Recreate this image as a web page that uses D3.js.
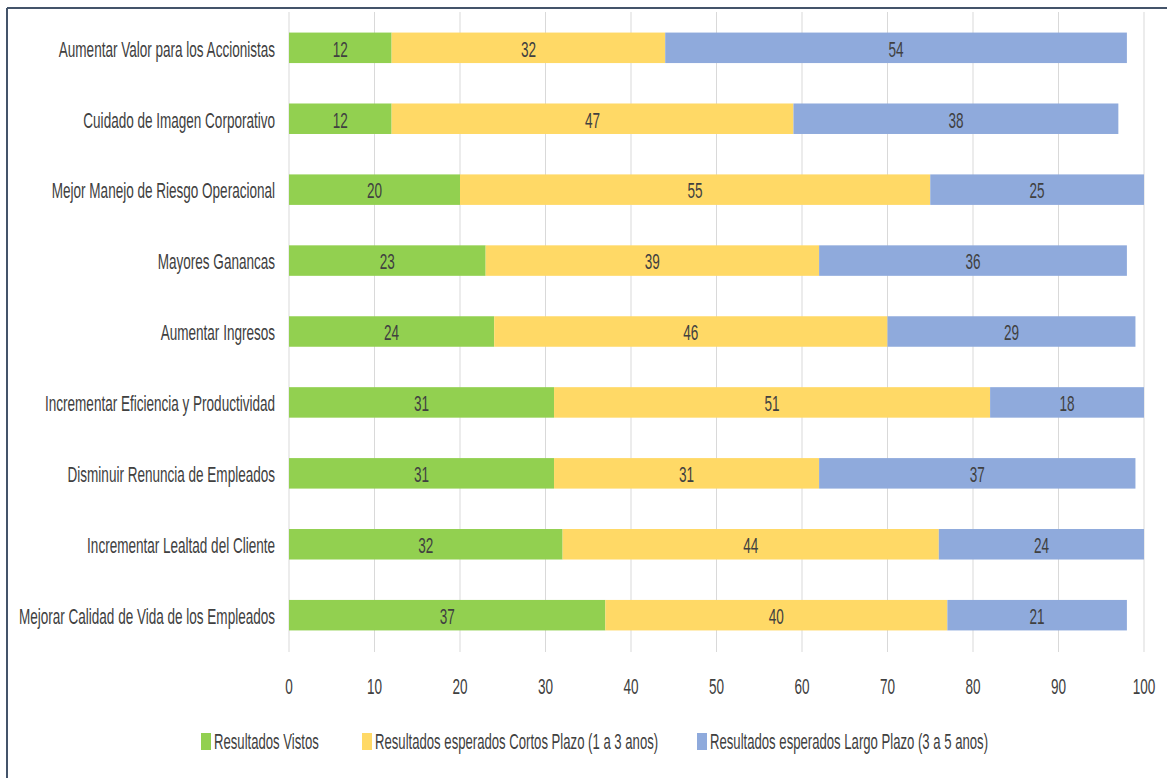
<!DOCTYPE html>
<html>
<head>
<meta charset="utf-8">
<script src="https://cdn.jsdelivr.net/npm/d3@7"></script>
<style>
  html, body { margin: 0; padding: 0; background: #ffffff; }
  svg { display: block; }
  text { font-family: "Liberation Sans Narrow", "Liberation Sans", Arial, sans-serif; fill: #404040; }
</style>
</head>
<body>
<svg id="chart" width="1167" height="778"></svg>
<script>
// Categories, top to bottom
const categories = [
  "Aumentar Valor para los Accionistas",
  "Cuidado de Imagen Corporativo",
  "Mejor Manejo de Riesgo Operacional",
  "Mayores Ganancas",
  "Aumentar Ingresos",
  "Incrementar Eficiencia y Productividad",
  "Disminuir Renuncia de Empleados",
  "Incrementar Lealtad del Cliente",
  "Mejorar Calidad de Vida de los Empleados"
];

// Series values, one per category
const vistos = [12, 12, 20, 23, 24, 31, 31, 32, 37];
const cortoPlazo = [32, 47, 55, 39, 46, 51, 31, 44, 40];
const largoPlazo = [54, 38, 25, 36, 29, 18, 37, 24, 21];

const seriesNames = [
  "Resultados Vistos",
  "Resultados esperados Cortos Plazo (1 a 3 anos)",
  "Resultados esperados Largo Plazo (3 a 5 anos)"
];
const seriesColors = ["#92d050", "#ffd966", "#8faadc"];

const xTicks = [0, 10, 20, 30, 40, 50, 60, 70, 80, 90, 100];

// Horizontal squeeze applied to text (condensed look)
const SX = 0.615;
const SX_LEGEND = 0.597;

const svg = d3.select("#chart");

// Outer frame (top and left edges)
svg.append("line").attr("x1", 7).attr("x2", 1167).attr("y1", 8).attr("y2", 8)
  .attr("stroke", "#44546a").attr("stroke-width", 2);
svg.append("line").attr("x1", 7).attr("x2", 7).attr("y1", 8).attr("y2", 778)
  .attr("stroke", "#44546a").attr("stroke-width", 2);

const x = d3.scaleLinear().domain([0, 100]).range([289, 1144]);
const y = d3.scaleBand().domain(categories).range([12, 651]).paddingInner(0.57).paddingOuter(0.29);

// Gridlines
svg.append("g").selectAll("line").data(xTicks).join("line")
  .attr("x1", d => x(d)).attr("x2", d => x(d))
  .attr("y1", 12).attr("y2", 652)
  .attr("stroke", "#d9d9d9").attr("stroke-width", 1);

// Stack the data
const rows = categories.map((c, i) => ({ cat: c, s0: vistos[i], s1: cortoPlazo[i], s2: largoPlazo[i] }));
const stack = d3.stack().keys(["s0", "s1", "s2"]);
const layers = stack(rows);

function sqText(sel, xPos, yPos) {
  return sel.attr("transform", (d, i) => `translate(${xPos(d, i)},${yPos(d, i)}) scale(${SX},1)`);
}

layers.forEach((layer, k) => {
  const g = svg.append("g");
  g.selectAll("rect").data(layer).join("rect")
    .attr("x", d => x(d[0]))
    .attr("y", d => y(d.data.cat))
    .attr("width", d => x(d[1]) - x(d[0]))
    .attr("height", y.bandwidth())
    .attr("fill", seriesColors[k]);
  const lbl = g.selectAll("text").data(layer).join("text")
    .attr("text-anchor", "middle")
    .attr("dominant-baseline", "central")
    .attr("font-size", 22)
    .text(d => d[1] - d[0]);
  sqText(lbl, d => (x(d[0]) + x(d[1])) / 2, d => y(d.data.cat) + y.bandwidth() / 2 + 1);
});

// Category labels
const catLbl = svg.append("g").selectAll("text").data(categories).join("text")
  .attr("text-anchor", "end")
  .attr("dominant-baseline", "central")
  .attr("font-size", 22)
  .text(d => d);
sqText(catLbl, () => 275, d => y(d) + y.bandwidth() / 2 + 1);

// X axis tick labels
const tickLbl = svg.append("g").selectAll("text").data(xTicks).join("text")
  .attr("text-anchor", "middle")
  .attr("dominant-baseline", "central")
  .attr("font-size", 22)
  .text(d => d);
sqText(tickLbl, d => x(d), () => 686);

// Legend
const legendX = [201, 362, 697];
const lg = svg.append("g").selectAll("g").data(seriesNames).join("g")
  .attr("transform", (d, i) => `translate(${legendX[i]},742)`);
lg.append("rect").attr("x", 0).attr("y", -9).attr("width", 10).attr("height", 17)
  .attr("fill", (d, i) => seriesColors[i]);
lg.append("text")
  .attr("dominant-baseline", "central")
  .attr("font-size", 22)
  .attr("transform", `translate(13,0) scale(${SX_LEGEND},1)`)
  .text(d => d);
</script>
</body>
</html>
